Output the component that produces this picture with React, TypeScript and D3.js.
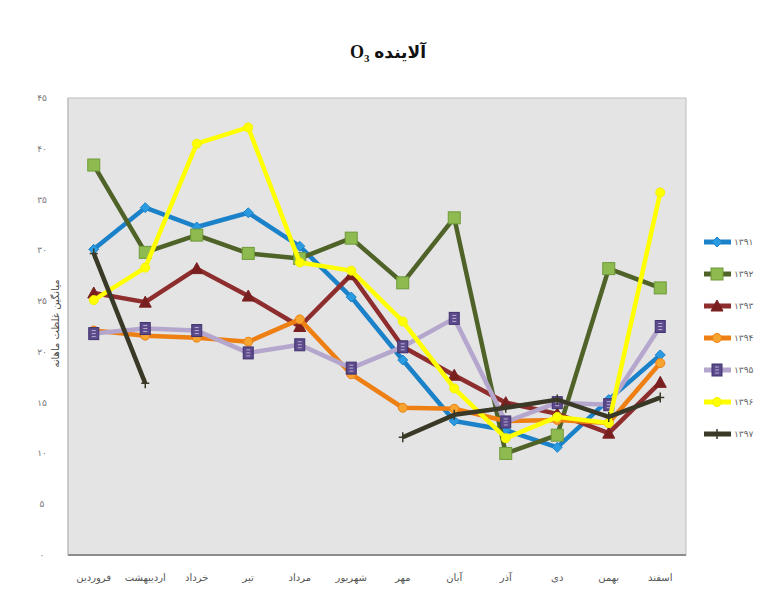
import React from "react";
import * as d3 from "d3";

const months = ["فروردین", "اردیبهشت", "خرداد", "تیر", "مرداد", "شهریور", "مهر", "آبان", "آذر", "دی", "بهمن", "اسفند"];
const seriesNames = ["۱۳۹۱", "۱۳۹۲", "۱۳۹۳", "۱۳۹۴", "۱۳۹۵", "۱۳۹۶", "۱۳۹۷"];
const s1391 = [30.1, 34.2, 32.3, 33.7, 30.4, 25.4, 19.2, 13.2, 12.3, 10.6, 15.3, 19.7];
const s1392 = [38.4, 29.8, 31.5, 29.7, 29.2, 31.2, 26.8, 33.2, 10.0, 11.8, 28.2, 26.3];
const s1393 = [25.8, 24.9, 28.2, 25.5, 22.5, 27.6, 20.5, 17.7, 15.0, 13.9, 12.0, 17.0];
const s1394 = [22.1, 21.6, 21.4, 21.0, 23.2, 17.8, 14.5, 14.4, 13.2, 13.3, 13.0, 18.9];
const s1395 = [21.8, 22.3, 22.1, 19.9, 20.7, 18.4, 20.5, 23.3, 13.1, 15.0, 14.8, 22.5];
const s1396 = [25.1, 28.3, 40.5, 42.1, 28.8, 28.0, 23.0, 16.4, 11.5, 13.6, 13.0, 35.7];
const s1397: (number | null)[] = [29.7, 16.9, null, null, null, null, 11.6, 13.8, 14.5, 15.3, 13.6, 15.5];
const yTicks = [0, 5, 10, 15, 20, 25, 30, 35, 40, 45];

const toFa = (n: number | string) => String(n).replace(/[0-9]/g, (d) => "۰۱۲۳۴۵۶۷۸۹"[+d]);

type Marker = "diamond" | "square" | "triangle" | "circle" | "square2" | "none" | "plus";
const styles: { line: string; fill: string; stroke: string; marker: Marker }[] = [
  { line: "#1b82c9", fill: "#2a9be0", stroke: "#1b82c9", marker: "diamond" },
  { line: "#4f6228", fill: "#8dbb4f", stroke: "#6f9a3a", marker: "square" },
  { line: "#8e2d2d", fill: "#7a1f1f", stroke: "#7a1f1f", marker: "triangle" },
  { line: "#ee7f12", fill: "#f7a531", stroke: "#ee7f12", marker: "circle" },
  { line: "#b4a6cc", fill: "#5c4a8a", stroke: "#3f3270", marker: "square2" },
  { line: "#ffff00", fill: "#ffff00", stroke: "#f2f200", marker: "circle" },
  { line: "#3a3826", fill: "#3a3826", stroke: "#3a3826", marker: "plus" },
];
const allSeries = [s1391, s1392, s1393, s1394, s1395, s1396, s1397];

function MarkerShape({ type, x, y, fill, stroke }: { type: Marker; x: number; y: number; fill: string; stroke: string }) {
  switch (type) {
    case "diamond":
      return <path d={`M${x},${y - 5}L${x + 5},${y}L${x},${y + 5}L${x - 5},${y}Z`} fill={fill} stroke={stroke} strokeWidth={1} />;
    case "square":
      return <rect x={x - 6} y={y - 6} width={12} height={12} fill={fill} stroke={stroke} strokeWidth={1} />;
    case "square2":
      return (
        <g>
          <rect x={x - 5} y={y - 6} width={10} height={12} fill={fill} stroke={stroke} strokeWidth={1} />
          <path d={`M${x - 2},${y - 3}L${x + 2},${y - 3}M${x - 2},${y}L${x + 2},${y}M${x - 2},${y + 3}L${x + 2},${y + 3}`} stroke="#b9aed6" strokeWidth={1} />
        </g>
      );
    case "triangle":
      return <path d={`M${x},${y - 6}L${x + 6},${y + 5}L${x - 6},${y + 5}Z`} fill={fill} stroke={stroke} strokeWidth={1} />;
    case "circle":
      return <circle cx={x} cy={y} r={4.5} fill={fill} stroke={stroke} strokeWidth={1} />;
    case "plus":
      return <path d={`M${x - 4},${y}L${x + 4},${y}M${x},${y - 5}L${x},${y + 5}`} stroke={stroke} strokeWidth={1.5} />;
    default:
      return null;
  }
}

export default function App() {
  const W = 757, H = 594;
  const left = 68, right = 686, top = 98, bottom = 555;
  const x = d3.scaleBand<string>().domain(months).range([left, right]);
  const cx = (m: string) => (x(m) as number) + x.bandwidth() / 2;
  const y = d3.scaleLinear().domain([0, 45]).range([bottom, top]);
  const line = d3
    .line<number | null>()
    .defined((d) => d != null)
    .x((_, i) => cx(months[i]))
    .y((d) => y(d as number));

  const legendY = d3.scalePoint<string>().domain(seriesNames).range([242, 434]);

  return (
    <svg width={W} height={H} style={{ position: "absolute", left: 0, top: 0, background: "#fff" }}>
      <rect x={0} y={0} width={W} height={H} fill="#ffffff" />
      {/* title */}
      <text x={372} y={59} fontFamily="'DejaVu Sans', sans-serif" fontWeight="bold" fontSize={17} textAnchor="start" direction="rtl" fill="#111">
        {""}
      </text>
      <text x={426} y={58} fontFamily="'DejaVu Sans', sans-serif" fontWeight="bold" fontSize={17} textAnchor="end" fill="#111">
        آلاینده
      </text>
      <text x={350} y={58} fontFamily="'Liberation Serif', serif" fontWeight="bold" fontSize={18} fill="#111">
        O<tspan fontSize={11} dy={4}>3</tspan>
      </text>

      {/* plot area */}
      <rect x={left} y={top} width={right - left} height={bottom - top} fill="#e4e4e4" stroke="#bdbdbd" strokeWidth={1} />
      <line x1={left} x2={right} y1={bottom} y2={bottom} stroke="#8c8c8c" strokeWidth={2} />
      <line x1={left} x2={left} y1={top} y2={bottom} stroke="#bdbdbd" strokeWidth={1} />

      {/* y ticks */}
      {yTicks.map((t) => (
        <text key={t} x={42} y={y(t) + 3} fontSize={9} fill="#777" textAnchor="middle" fontFamily="'DejaVu Sans', sans-serif">
          {toFa(t)}
        </text>
      ))}
      <text
        transform={`translate(59, ${(top + bottom) / 2 - 3}) rotate(-90)`}
        fontSize={10}
        fill="#444"
        textAnchor="middle"
        fontFamily="'DejaVu Sans', sans-serif"
      >
        میانگین غلظت ماهانه
      </text>

      {/* x labels */}
      {months.map((m) => (
        <text key={m} x={cx(m)} y={581} fontSize={10} fill="#555" textAnchor="middle" fontFamily="'DejaVu Sans', sans-serif">
          {m}
        </text>
      ))}

      {/* series */}
      {allSeries.map((s, i) => (
        <g key={seriesNames[i]}>
          <path d={line(s) || ""} fill="none" stroke={styles[i].line} strokeWidth={4.5} strokeLinejoin="round" />
          {s.map((v, j) =>
            v == null ? null : (
              <MarkerShape key={j} type={styles[i].marker} x={cx(months[j])} y={y(v)} fill={styles[i].fill} stroke={styles[i].stroke} />
            )
          )}
        </g>
      ))}

      {/* legend */}
      {seriesNames.map((n, i) => {
        const ly = legendY(n) as number;
        return (
          <g key={n}>
            <line x1={704} x2={731} y1={ly} y2={ly} stroke={styles[i].line} strokeWidth={5} />
            <MarkerShape type={styles[i].marker === "square" || styles[i].marker === "square2" ? styles[i].marker : styles[i].marker} x={717} y={ly} fill={styles[i].fill} stroke={styles[i].stroke} />
            <text x={734} y={ly + 3} fontSize={9} fill="#666" fontFamily="'DejaVu Sans', sans-serif">
              {n}
            </text>
          </g>
        );
      })}
    </svg>
  );
}
